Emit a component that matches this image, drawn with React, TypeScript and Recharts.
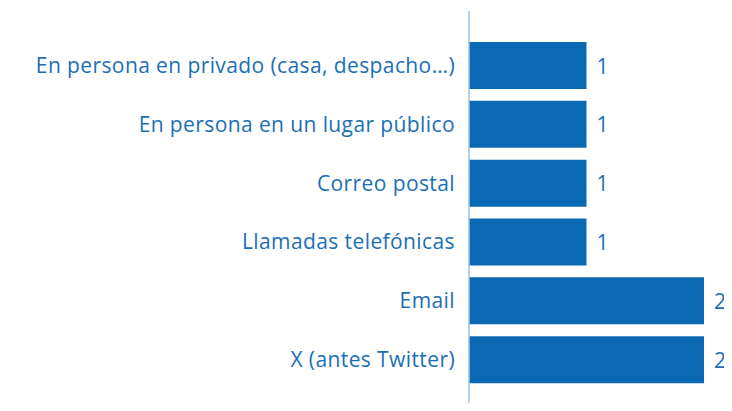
import { Bar, BarChart, LabelList, XAxis, YAxis } from "recharts";

// Categories, top to bottom
const channels: string[] = [
  "En persona en privado (casa, despacho…)",
  "En persona en un lugar público",
  "Correo postal",
  "Llamadas telefónicas",
  "Email",
  "X (antes Twitter)",
];

const counts: number[] = [1, 1, 1, 1, 2, 2];

const data = channels.map((name, i) => ({ name, value: counts[i] }));

const FONT = "'Open Sans', sans-serif";
const TEXT = "#1b6fb6";

// plain text label to the right of each bar
const ValueLabel = (props: any) => {
  const { x, y, width, height, value } = props;
  return (
    <text
      x={Number(x) + Number(width) + 10}
      y={Number(y) + Number(height) / 2}
      dominantBaseline="central"
      fill={TEXT}
      fontSize={21}
      fontFamily={FONT}
    >
      {value}
    </text>
  );
};

const App = () => {
  return (
    // cancel the body margin so the chart fills the window without scrollbars
    <div style={{ margin: -8, width: 732, height: 411, overflow: "hidden" }}>
      <BarChart
        width={732}
        height={411}
        data={data}
        layout="vertical"
        margin={{ top: 11, right: 28, bottom: 0, left: 0 }}
        barSize={47}
      >
        <XAxis type="number" domain={[0, 2]} hide />
        <YAxis
          type="category"
          dataKey="name"
          width={469}
          tickLine={false}
          tickSize={0}
          tickMargin={14}
          axisLine={{ stroke: "#9dc3e2", strokeWidth: 1.5 }}
          padding={{ top: 25, bottom: 22 }}
          interval={0}
          tick={{ fill: TEXT, fontSize: 21, fontFamily: FONT, letterSpacing: 0.4 }}
        />
        <Bar dataKey="value" fill="#0a69b2" isAnimationActive={false}>
          <LabelList dataKey="value" content={ValueLabel} />
        </Bar>
      </BarChart>
    </div>
  );
};

export default App;
